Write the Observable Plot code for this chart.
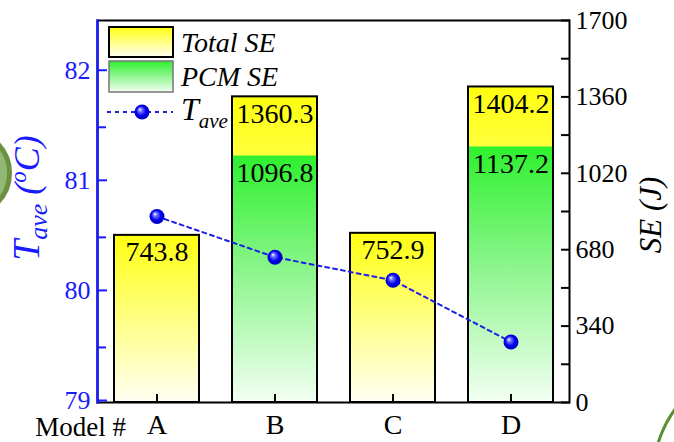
<!DOCTYPE html>
<html>
<head>
<meta charset="utf-8">
<script src="https://cdn.jsdelivr.net/npm/d3@7"></script>
<script src="https://cdn.jsdelivr.net/npm/@observablehq/plot@0.6"></script>
<style>
  html, body { margin: 0; padding: 0; background: #fff; }
  #wrap { position: relative; width: 674px; height: 442px; overflow: hidden; background: #fff; }
  #wrap svg { position: absolute; left: 0; top: 0; }
  #wrap svg text { font-family: "Liberation Serif", "Times New Roman", Times, "DejaVu Serif", serif; }
  .deco { position: absolute; border-radius: 50%; box-sizing: border-box; }
</style>
</head>
<body>
<div id="wrap">
  <div class="deco" style="left:-78px;top:128px;width:90px;height:90px;background:#93b874;border:5px solid #6a9040;"></div>
  <div class="deco" style="left:652px;top:362px;width:226px;height:226px;border:3px solid #5b8f32;"></div>
</div>
<script>
// ---- data ----
const models = ["A", "B", "C", "D"];
const totalSE = [743.8, 1360.3, 752.9, 1404.2];
const pcmSE = [0, 1096.8, 0, 1137.2];
const tAve = [80.69, 80.32, 80.11, 79.55];
const seTicks = [0, 340, 680, 1020, 1360, 1700];
const seMinor = [170, 510, 850, 1190, 1530];
const tTicks = [79, 80, 81, 82];
const tMinor = [79.5, 80.5, 81.5];
const tDomain = [79, 82.47];
const seDomain = [0, 1700];

const rows = models.map((m, i) => ({model: m, total: totalSE[i], pcm: pcmSE[i], tave: tAve[i]}));
const toSE = t => (t - tDomain[0]) / (tDomain[1] - tDomain[0]) * (seDomain[1] - seDomain[0]);
const fromSE = s => tDomain[0] + s / (seDomain[1] - seDomain[0]) * (tDomain[1] - tDomain[0]);

const serif = "'Liberation Serif', 'Times New Roman', Times, 'DejaVu Serif', serif";
const blue = "#1a1aff";

const svg = Plot.plot({
  width: 674,
  height: 442,
  marginLeft: 97,
  marginRight: 105,
  marginTop: 20,
  marginBottom: 40,
  style: {fontFamily: serif, fontSize: "26px", background: "transparent", color: "black"},
  x: {domain: models, paddingInner: 0.28, paddingOuter: 0.14, label: null},
  y: {domain: seDomain, label: null},
  marks: [
    Plot.barY(rows, {x: "model", y: "total", fill: "url(#gradY)"}),
    Plot.barY(rows.filter(d => d.pcm > 0), {x: "model", y: "pcm", fill: "url(#gradG)"}),
    Plot.barY(rows, {x: "model", y: "total", fill: "none", stroke: "black", strokeWidth: 2}),
    Plot.text(rows, {x: "model", y: "total", text: d => d.total.toFixed(1), dy: 17, fontSize: 28, fill: "black"}),
    Plot.text(rows.filter(d => d.pcm > 0), {x: "model", y: "pcm", text: d => d.pcm.toFixed(1), dy: 17, fontSize: 28, fill: "black"}),
    Plot.line(rows, {x: "model", y: d => toSE(d.tave), stroke: "#1f1fe6", strokeWidth: 2, strokeDasharray: "4,4"}),
    Plot.dot(rows, {x: "model", y: d => toSE(d.tave), r: 7.5, fill: "url(#gradB)", stroke: "none"}),
    Plot.frame({stroke: "black", strokeWidth: 2}),
    Plot.frame({anchor: "left", stroke: blue, strokeWidth: 2.5}),
    // left axis (T_ave)
    Plot.axisY(tTicks.map(toSE), {anchor: "left", tickSize: -10, tickPadding: 17, stroke: blue, fill: blue, strokeWidth: 2,
      tickFormat: d => String(Math.round(fromSE(d))), fontSize: 26, dy: -2}),
    Plot.axisY(tMinor.map(toSE), {anchor: "left", tickSize: -9, stroke: blue, strokeWidth: 2, tickFormat: () => ""}),
    // right axis (SE)
    Plot.axisY(seTicks, {anchor: "right", tickSize: -9, tickPadding: 15, strokeWidth: 2, fontSize: 26, tickFormat: d => String(d)}),
    Plot.axisY(seMinor, {anchor: "right", tickSize: -9, strokeWidth: 2, tickFormat: () => ""}),
    // bottom axis
    Plot.axisX({tickSize: -8, strokeWidth: 2, tickPadding: 20, fontSize: 28}),
    Plot.text(["Model #"], {x: () => "A", y: () => 0, dx: -31, dy: 25, textAnchor: "end", fontSize: 27, fill: "black"})
  ]
});

const s = d3.select(svg);
const defs = s.insert("defs", ":first-child");
const gy = defs.append("linearGradient").attr("id", "gradY").attr("x1", 0).attr("y1", 0).attr("x2", 0).attr("y2", 1);
gy.append("stop").attr("offset", "0%").attr("stop-color", "#ffff10");
gy.append("stop").attr("offset", "35%").attr("stop-color", "#ffff60");
gy.append("stop").attr("offset", "100%").attr("stop-color", "#fffff4");
const gg = defs.append("linearGradient").attr("id", "gradG").attr("x1", 0).attr("y1", 0).attr("x2", 0).attr("y2", 1);
gg.append("stop").attr("offset", "0%").attr("stop-color", "#2ef02e");
gg.append("stop").attr("offset", "45%").attr("stop-color", "#88f588");
gg.append("stop").attr("offset", "100%").attr("stop-color", "#f3fff3");
const gb = defs.append("radialGradient").attr("id", "gradB").attr("cx", "50%").attr("cy", "50%").attr("r", "55%").attr("fx", "35%").attr("fy", "32%");
gb.append("stop").attr("offset", "0%").attr("stop-color", "#ffffff");
gb.append("stop").attr("offset", "22%").attr("stop-color", "#7a7aff");
gb.append("stop").attr("offset", "60%").attr("stop-color", "#0000f0");
gb.append("stop").attr("offset", "100%").attr("stop-color", "#0000b0");

// axis titles
const lt = s.append("text").attr("transform", "translate(39,198) rotate(-90)")
  .attr("text-anchor", "middle").attr("fill", blue).attr("font-style", "italic");
lt.append("tspan").attr("font-size", 38).text("T");
lt.append("tspan").attr("font-size", 26).attr("dy", 8).text("ave");
lt.append("tspan").attr("font-size", 36).attr("dy", -8).text(" (");
lt.append("tspan").attr("font-size", 23).attr("dy", -13).text("o");
lt.append("tspan").attr("font-size", 36).attr("dy", 13).text("C)");

s.append("text").attr("transform", "translate(654,215) rotate(-90)")
  .attr("text-anchor", "middle").attr("dominant-baseline", "middle").attr("fill", "black")
  .attr("font-style", "italic").attr("font-size", 31).text("SE (J)");

// legend
const lg = s.append("g").attr("font-style", "italic").attr("fill", "black").attr("text-anchor", "start");
lg.append("rect").attr("x", 109).attr("y", 27).attr("width", 64).attr("height", 30).attr("fill", "url(#gradY)").attr("stroke", "black").attr("stroke-width", 2);
lg.append("rect").attr("x", 109).attr("y", 61).attr("width", 64).attr("height", 31).attr("fill", "url(#gradG)").attr("stroke", "#777").attr("stroke-width", 1.5);
lg.append("line").attr("x1", 107).attr("x2", 173).attr("y1", 112).attr("y2", 112).attr("stroke", "#1f1fe6").attr("stroke-width", 2).attr("stroke-dasharray", "4,4");
lg.append("circle").attr("cx", 142).attr("cy", 112).attr("r", 7.5).attr("fill", "url(#gradB)");
lg.append("text").attr("x", 181).attr("y", 52).attr("text-anchor", "start").attr("font-size", 28).text("Total SE");
lg.append("text").attr("x", 181).attr("y", 86).attr("text-anchor", "start").attr("font-size", 28).text("PCM SE");
const tl = lg.append("text").attr("x", 181).attr("y", 120).attr("text-anchor", "start");
tl.append("tspan").attr("font-size", 32).text("T");
tl.append("tspan").attr("font-size", 21).attr("dy", 8).text("ave");

document.getElementById("wrap").appendChild(svg);
</script>
</body>
</html>
